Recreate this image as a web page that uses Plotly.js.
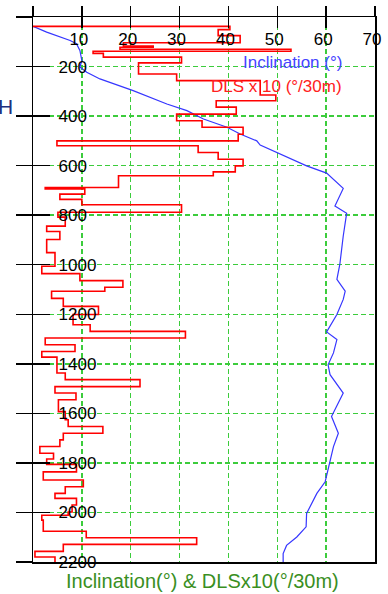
<!DOCTYPE html>
<html>
<head>
<meta charset="utf-8">
<script src="https://cdn.plot.ly/plotly-3.0.1.min.js"></script>
<style>html,body{margin:0;padding:0;background:#fff;}#chart{width:388px;height:594px;}</style>
</head>
<body>
<div id="chart"></div>
<script>
// Inclination (deg) vs measured depth (m)
const incDepth = [38,61,95,108,135,176,202,223,250,297,351,378,412,445,472,500,517,547,571,601,630,692,763,792,884,999,1059,1107,1140,1201,1271,1302,1356,1404,1444,1518,1613,1680,1734,1842,1876,1923,2004,2058,2099,2133,2166,2200];
const incValue = [0,2.8,7.6,8.9,9.6,10.0,9.6,11.0,13.7,20.5,27.4,31.5,34.9,39.7,42.4,45.8,46.5,49.9,52.6,56.0,60.1,63.5,61.8,64.2,63.5,62.8,62.2,63.9,63.5,62.2,60.1,62.2,61.5,60.4,60.8,63.5,61.1,62.5,61.5,60.1,59.8,58.1,56.0,55.9,54.0,51.9,51.2,51.2];

// DLS x10 (deg/30m), constant from each start depth to the next
const dlsDepth = [38,38,51,75,104,117,122,130,138,147,162,185,230,257,315,338,364,392,419,445,473,500,520,547,574,601,625,641,688,694,715,736,758,788,808,844,866,898,951,1006,1036,1064,1091,1107,1136,1168,1201,1242,1269,1296,1323,1350,1373,1437,1464,1492,1518,1545,1593,1626,1653,1680,1707,1734,1761,1784,1806,1836,1869,1896,1923,1943,1970,1998,2011,2031,2076,2102,2129,2157,2180,2200];
const dlsValue = [0,40.3,37.9,42.4,18.5,24.6,17.8,52.8,12.3,14.4,30.4,21.6,29.4,46.5,49.7,37.5,41.6,29.4,34.6,43.0,42.0,4.9,33.8,37.9,43.0,41.4,36.9,17.5,2.5,10.6,5.5,10.0,30.4,5.1,6.6,2.8,5.5,2.8,4.5,1.8,9.6,18.4,14.7,3.8,6.2,13.4,8.2,11.7,31.2,2.5,8.6,1.8,4.9,6.6,21.9,4.5,8.8,5.2,6.6,7.2,14.3,6.2,5.5,1.4,4.2,2.8,8.9,2.1,10.3,6.6,4.5,8.9,8.0,7.2,1.8,2.1,10.9,33.5,6.2,0.4,4.5,4.5];

const xTickVals = [0,10,20,30,40,50,60,70];
const xTickText = ['','10','20','30','40','50','60','70'];
const yTickVals = [0,200,400,600,800,1000,1200,1400,1600,1800,2000,2200];
const yTickText = ['','200','400','600','800','1000','1200','1400','1600','1800','2000','2200'];

const FONT = 'Arial, "Liberation Sans", sans-serif';
const GRID = '#3ccc3c';

const traces = [
  {x: incValue, y: incDepth, type: 'scatter', mode: 'lines',
   line: {color: '#3636ff', width: 1.2}, hoverinfo: 'skip', showlegend: false},
  {x: dlsValue, y: dlsDepth, type: 'scatter', mode: 'lines',
   line: {color: '#ff0000', width: 1.6, shape: 'vh'}, hoverinfo: 'skip', showlegend: false},
  {x: [0], y: [0], xaxis: 'x2', yaxis: 'y2', type: 'scatter', mode: 'markers',
   marker: {size: 1, opacity: 0}, hoverinfo: 'skip', showlegend: false}
];

const layout = {
  width: 388, height: 594,
  margin: {l: 33, r: 13, t: 17, b: 32, pad: 0},
  paper_bgcolor: '#ffffff', plot_bgcolor: '#ffffff',
  font: {family: FONT, size: 17, color: '#000'},
  showlegend: false,
  xaxis: {
    side: 'top', range: [0, 70], tickmode: 'array', tickvals: xTickVals, ticktext: xTickText,
    ticks: 'outside', ticklen: 10, tickwidth: 1.5, tickcolor: '#000',
    ticklabelposition: 'inside', ticklabeloverflow: 'allow', ticklabelstandoff: 17, ticklabelshift: -3,
    tickfont: {family: FONT, size: 17, color: '#000'},
    showgrid: true, gridcolor: GRID, gridwidth: 1.5, griddash: '5px,3px',
    showline: true, linecolor: '#000', linewidth: 1.5, mirror: true, zeroline: false
  },
  xaxis2: {
    overlaying: 'x', side: 'top', range: [0, 70], tickmode: 'array', tickvals: xTickVals,
    ticks: 'inside', ticklen: 11, tickwidth: 1.5, tickcolor: '#000',
    showticklabels: false, showgrid: false, showline: false, zeroline: false
  },
  yaxis: {
    range: [2200, 0], tickmode: 'array', tickvals: yTickVals, ticktext: yTickText,
    ticks: 'outside', ticklen: 16, tickwidth: 1.5, tickcolor: '#000',
    ticklabelposition: 'inside', ticklabeloverflow: 'allow', ticklabelstandoff: 26,
    tickfont: {family: FONT, size: 17, color: '#000'},
    showgrid: true, gridcolor: GRID, gridwidth: 1.5, griddash: '5px,3px',
    showline: true, linecolor: '#000', linewidth: 1.5, mirror: true, zeroline: false
  },
  yaxis2: {
    overlaying: 'y', side: 'left', range: [2200, 0], tickmode: 'array', tickvals: yTickVals,
    ticks: 'inside', ticklen: 17, tickwidth: 1.5, tickcolor: '#000',
    showticklabels: false, showgrid: false, showline: false, zeroline: false
  },
  annotations: [
    {xref: 'paper', yref: 'paper', x: 0.909, y: 0.9156, xanchor: 'right', yanchor: 'middle',
     text: 'Inclination (°)', showarrow: false, font: {family: FONT, size: 17, color: '#4444ff'}},
    {xref: 'paper', yref: 'paper', x: 0.909, y: 0.8716, xanchor: 'right', yanchor: 'middle',
     text: 'DLS x 10 (°/30m)', showarrow: false, font: {family: FONT, size: 17, color: '#ff2020'}},
    {xref: 'paper', yref: 'paper', x: 0.497, y: -0.035, xanchor: 'center', yanchor: 'middle',
     text: 'Inclination(°) & DLSx10(°/30m)', showarrow: false, font: {family: FONT, size: 20, color: '#3a8f1f'}},
    {xref: 'paper', yref: 'paper', x: -0.0526, y: 0.835, xanchor: 'right', yanchor: 'middle',
     text: 'DEPTH', showarrow: false, font: {family: FONT, size: 21, color: '#203080'}}
  ]
};

Plotly.newPlot('chart', traces, layout, {displayModeBar: false, staticPlot: true});
</script>
</body>
</html>
